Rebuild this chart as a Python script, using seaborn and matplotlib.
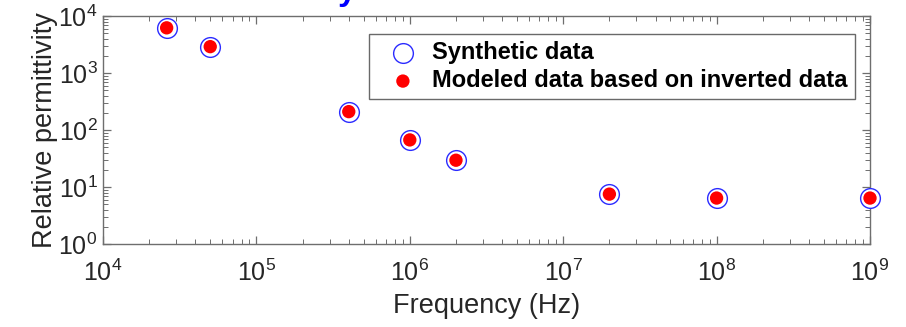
import matplotlib
matplotlib.use("Agg")
import matplotlib.pyplot as plt
from matplotlib.ticker import LogLocator, NullFormatter
import seaborn as sns
import pandas as pd

# Frequencies (Hz) and relative permittivity values
frequency = [2.6e4, 5e4, 4e5, 1e6, 2e6, 2e7, 1e8, 1e9]
synthetic = [6200, 2900, 210, 67, 29.5, 7.5, 6.4, 6.4]
modeled = [6200, 2900, 210, 67, 29.5, 7.5, 6.4, 6.4]
series_names = ["Synthetic data", "Modeled data based on inverted data"]

df_syn = pd.DataFrame({"Frequency": frequency, "Permittivity": synthetic})
df_mod = pd.DataFrame({"Frequency": frequency, "Permittivity": modeled})

sns.set_theme(style="white")
plt.rcParams["font.family"] = ["Liberation Sans", "DejaVu Sans"]
plt.rcParams["mathtext.fontset"] = "custom"
plt.rcParams["mathtext.rm"] = "Liberation Sans"

W, H = 906, 327
fig = plt.figure(figsize=(W / 100, H / 100), dpi=100)
ax = fig.add_axes([103 / W, 1 - 244 / H, (870 - 103) / W, (244 - 16) / H])

sns.scatterplot(data=df_syn, x="Frequency", y="Permittivity", ax=ax,
                marker="o", s=14.2 ** 2, facecolor="white",
                edgecolor="#2b2bff", linewidth=1.0, label=series_names[0],
                zorder=3, clip_on=False)
sns.scatterplot(data=df_mod, x="Frequency", y="Permittivity", ax=ax,
                marker="o", s=9.6 ** 2, color="#ff0000", edgecolor="none",
                linewidth=0, label=series_names[1], zorder=4, clip_on=False)

ax.set_xscale("log")
ax.set_yscale("log")
ax.set_xlim(1e4, 1e9)
ax.set_ylim(1e0, 1e4)

axis_col = "#6e6e6e"
text_col = "#262626"
for sp in ax.spines.values():
    sp.set_visible(True)
    sp.set_color(axis_col)
    sp.set_linewidth(1.0)

ax.xaxis.set_major_locator(LogLocator(base=10, numticks=10))
ax.yaxis.set_major_locator(LogLocator(base=10, numticks=10))
ax.xaxis.set_minor_locator(LogLocator(base=10, subs=range(2, 10), numticks=20))
ax.yaxis.set_minor_locator(LogLocator(base=10, subs=range(2, 10), numticks=20))
ax.xaxis.set_minor_formatter(NullFormatter())
ax.yaxis.set_minor_formatter(NullFormatter())

ax.tick_params(which="both", direction="in", top=True, right=True,
               bottom=True, left=True, color=axis_col)
ax.tick_params(which="major", length=6, width=0.9, labelsize=18,
               labelcolor=text_col)
ax.tick_params(axis="x", which="major", pad=11)
ax.tick_params(axis="y", which="major", pad=4)
ax.tick_params(which="minor", length=3.5, width=0.7)

ax.set_xlabel("Frequency (Hz)", fontsize=19.5, color=text_col, labelpad=5)
ax.set_ylabel("Relative permittivity", fontsize=19.5, color=text_col,
              labelpad=0)

leg = ax.legend(loc="upper right", bbox_to_anchor=((855 - 103) / 767, 1 - (34 - 16) / 228),
                borderaxespad=0, frameon=True, fancybox=False,
                prop={"weight": "bold", "size": 17}, handletextpad=0.1,
                borderpad=0.3, labelspacing=0.22, handlelength=2.3)
leg.get_frame().set_edgecolor("#444444")
leg.get_frame().set_linewidth(1.0)
for t in leg.get_texts():
    t.set_color("black")

# Blue heading above the plot, cropped at the figure's top edge
fig.text(338 / W, 1.0, "y", color="#0000ff", fontsize=24,
         fontweight="bold", ha="left", va="baseline")

fig.savefig("out.png", dpi=100)
